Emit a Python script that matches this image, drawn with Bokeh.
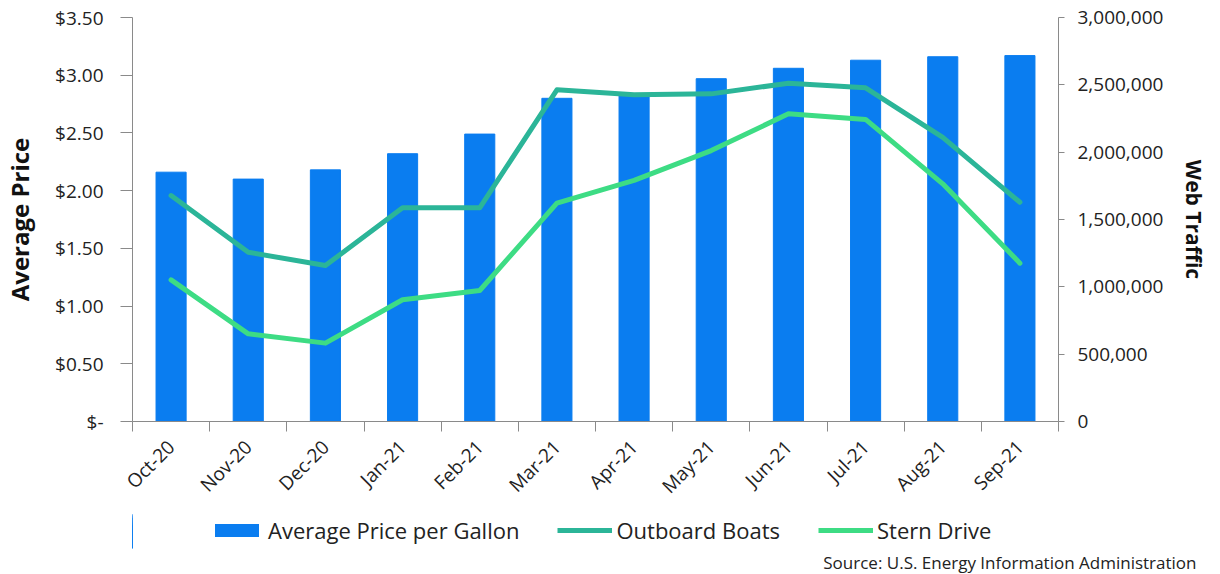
from bokeh.plotting import figure
from bokeh.layouts import column
from bokeh.models import (Range1d, LinearAxis, FixedTicker, NumeralTickFormatter,
                          Legend, LegendItem, Title, ColumnDataSource)
from bokeh.embed import file_html
from bokeh.resources import INLINE
import math

months = ["Oct-20", "Nov-20", "Dec-20", "Jan-21", "Feb-21", "Mar-21",
          "Apr-21", "May-21", "Jun-21", "Jul-21", "Aug-21", "Sep-21"]
avg_price = [2.16, 2.10, 2.18, 2.32, 2.49, 2.80, 2.83, 2.97, 3.06, 3.13, 3.16, 3.17]
outboard = [1678000, 1257000, 1158000, 1587000, 1587000, 2463000,
            2426000, 2433000, 2512000, 2478000, 2110000, 1628000]
stern = [1052000, 651000, 582000, 904000, 973000, 1621000,
         1790000, 2012000, 2285000, 2243000, 1765000, 1176000]
price_ticks = [0, 0.5, 1.0, 1.5, 2.0, 2.5, 3.0, 3.5]
price_tick_labels = ["$-", "$0.50", "$1.00", "$1.50", "$2.00", "$2.50", "$3.00", "$3.50"]
traffic_ticks = [0, 500000, 1000000, 1500000, 2000000, 2500000, 3000000]
series_names = ["Average Price per Gallon", "Outboard Boats", "Stern Drive"]
source_text = "Source: U.S. Energy Information Administration"

FONT = "Open Sans"
BAR = "#0A7DF0"
TEAL = "#2BB598"
GREEN = "#3DDC84"
AXC = "#8a8a8a"

n = len(months)
xc = [i + 0.5 for i in range(n)]
src = ColumnDataSource(dict(x=xc, price=avg_price, outboard=outboard, stern=stern))

p = figure(frame_width=926, frame_height=404, output_backend="svg", toolbar_location=None,
           x_range=Range1d(0, n), y_range=Range1d(0, 3.5),
           min_border_left=131, min_border_right=163, min_border_top=17,
           min_border_bottom=89, outline_line_color=None, x_axis_location=None,
           y_axis_location=None)
p.extra_y_ranges = {"traffic": Range1d(0, 3000000)}
p.xgrid.visible = False
p.ygrid.visible = False

# x axis: labels at category centres, ticks at category boundaries
xax = LinearAxis(ticker=FixedTicker(ticks=xc, minor_ticks=list(range(n + 1))))
xax.major_label_overrides = {x: m for x, m in zip(xc, months)}
xax.major_label_orientation = math.pi / 4
xax.major_tick_out = 0
xax.major_tick_in = 0
xax.minor_tick_out = 10
xax.minor_tick_in = 0
xax.minor_tick_line_color = AXC
xax.axis_line_color = AXC
xax.major_label_text_font = FONT
xax.major_label_text_font_size = "19px"
xax.major_label_text_color = "#222222"
xax.major_label_standoff = 12
p.add_layout(xax, "below")

# left axis
yax = LinearAxis(ticker=FixedTicker(ticks=price_ticks, minor_ticks=[]))
yax.major_label_overrides = {t: l for t, l in zip(price_ticks, price_tick_labels)}
yax.axis_label = "Average Price"
yax.axis_label_text_font = FONT
yax.axis_label_text_font_style = "bold"
yax.axis_label_text_font_size = "24px"
yax.axis_label_text_color = "#111111"
yax.axis_label_standoff = 16
yax.major_tick_out = 12
yax.major_tick_in = 0
yax.major_tick_line_color = AXC
yax.axis_line_color = AXC
yax.major_label_text_font = FONT
yax.major_label_text_font_size = "19px"
yax.major_label_text_color = "#222222"
yax.major_label_standoff = 17
p.add_layout(yax, "left")

# right axis
rax = LinearAxis(y_range_name="traffic",
                 ticker=FixedTicker(ticks=traffic_ticks, minor_ticks=[]),
                 formatter=NumeralTickFormatter(format="0,0"))
rax.axis_label = "Web Traffic"
rax.axis_label_text_font = FONT
rax.axis_label_text_font_style = "bold"
rax.axis_label_text_font_size = "21px"
rax.axis_label_text_color = "#111111"
rax.axis_label_standoff = 14
rax.major_tick_out = 6
rax.major_tick_in = 0
rax.major_tick_line_color = AXC
rax.axis_line_color = AXC
rax.major_label_text_font = FONT
rax.major_label_text_font_size = "19px"
rax.major_label_text_color = "#222222"
rax.major_label_standoff = 13
p.add_layout(rax, "right")

p.vbar(x="x", top="price", width=0.39, source=src, fill_color=BAR, line_color=BAR)
p.line(x="x", y="outboard", source=src, y_range_name="traffic",
       line_color=TEAL, line_width=5, line_join="round", line_cap="round")
p.line(x="x", y="stern", source=src, y_range_name="traffic",
       line_color=GREEN, line_width=5, line_join="round", line_cap="round")

# strip under the chart: legend + source note (its series lie far outside its
# x view, they only provide the legend swatches)
q = figure(frame_width=926, frame_height=38, output_backend="svg", toolbar_location=None,
           x_range=Range1d(100, 100 + n), y_range=Range1d(0, 3.5),
           min_border_left=131, min_border_right=163, min_border_top=0,
           min_border_bottom=26, outline_line_color=None, x_axis_location=None,
           y_axis_location=None)
q.extra_y_ranges = {"traffic": Range1d(0, 3000000)}
q.xgrid.visible = False
q.ygrid.visible = False
g1 = q.vbar(x="x", top="price", width=0.39, source=src,
            fill_color=BAR, line_color=None)
g2 = q.line(x="x", y="outboard", source=src, y_range_name="traffic",
            line_color=TEAL, line_width=5)
g3 = q.line(x="x", y="stern", source=src, y_range_name="traffic",
            line_color=GREEN, line_width=5)

legend = Legend(items=[LegendItem(label=series_names[0], renderers=[g1]),
                       LegendItem(label=series_names[1], renderers=[g2]),
                       LegendItem(label=series_names[2], renderers=[g3])],
                orientation="horizontal", location=(77, 3),
                label_text_font=FONT, label_text_font_size="22px",
                label_text_color="#222222", glyph_width=55, glyph_height=16,
                spacing=38, padding=2, margin=0, border_line_color=None,
                label_standoff=4, background_fill_alpha=0)
q.add_layout(legend, "center")
q.add_layout(Title(text=source_text, align="right", text_font=FONT,
                   text_font_size="17px", text_font_style="normal",
                   text_color="#222222", offset=-138, standoff=0), "below")

layout = column(p, q, spacing=0)
open("out.html", "w").write(file_html(layout, INLINE))
